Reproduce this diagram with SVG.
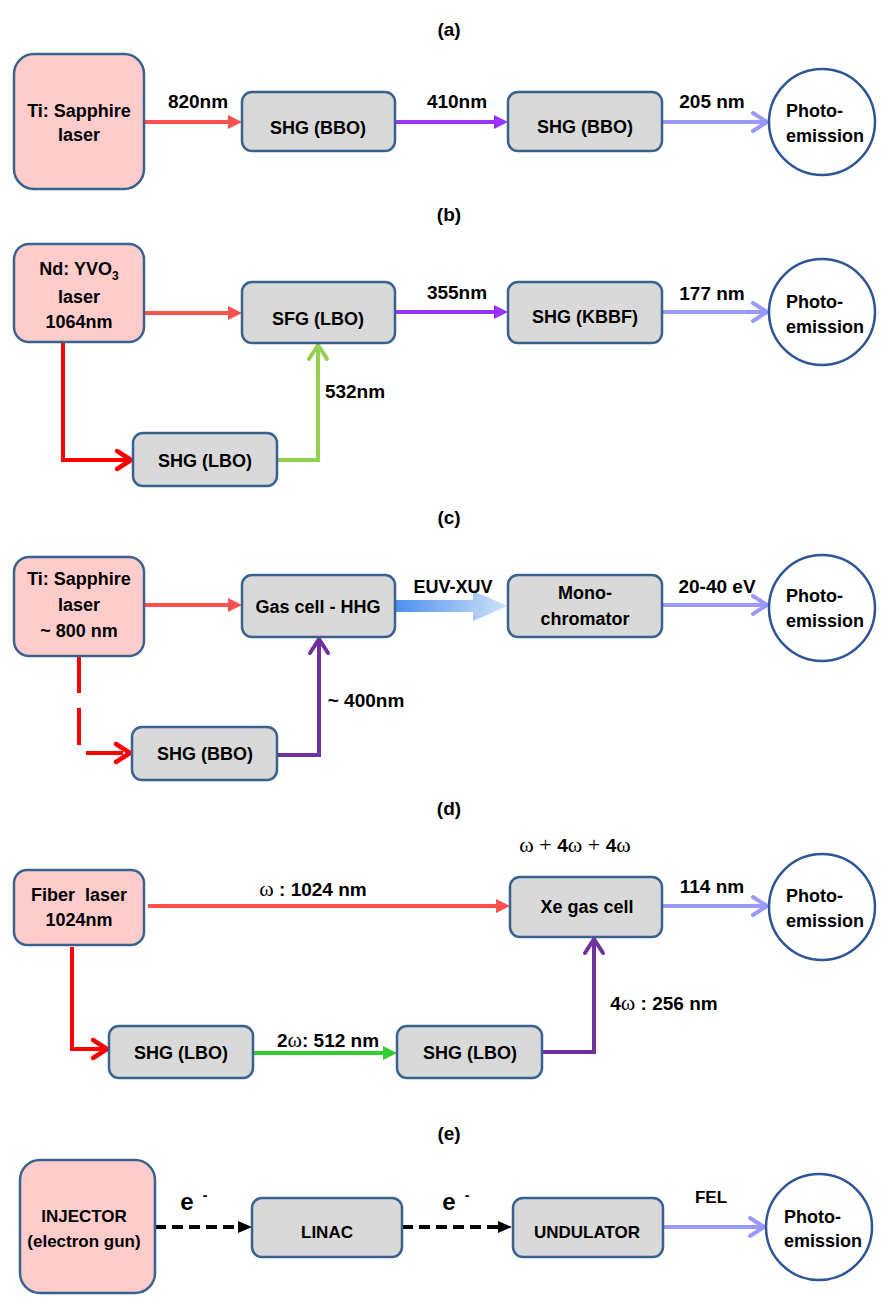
<svg xmlns="http://www.w3.org/2000/svg" width="890" height="1313" viewBox="0 0 890 1313">
<style>
text{font-family:"Liberation Sans",Arial,sans-serif;font-weight:bold;fill:#000;text-anchor:middle}
.title{font-size:19px}
.bt{font-size:18px}
.lbl{font-size:19px}
.et{font-size:17px}
.pe{font-size:18px;text-anchor:start}
.w{font-family:"Liberation Serif","Times New Roman",serif;font-weight:normal;font-size:22px}
.pink{fill:#FFCCCC;stroke:#3A6290;stroke-width:2.5}
.gray{fill:#D9D9D9;stroke:#3A6290;stroke-width:2.5}
.circ{fill:#FFFFFF;stroke:#2F5597;stroke-width:2.5}
.c{fill:none;stroke-width:4}
</style>
<defs>
<marker id="triRed" markerUnits="userSpaceOnUse" markerWidth="14" markerHeight="14" refX="8" refY="7" orient="auto" viewBox="0 0 14 14" overflow="visible"><path d="M0,0 L14,7 L0,14 z" fill="#FF5050"/></marker>
<marker id="triPurple" markerUnits="userSpaceOnUse" markerWidth="14" markerHeight="14" refX="8" refY="7" orient="auto" viewBox="0 0 14 14" overflow="visible"><path d="M0,0 L14,7 L0,14 z" fill="#9933FF"/></marker>
<marker id="triGreen" markerUnits="userSpaceOnUse" markerWidth="14" markerHeight="14" refX="8" refY="7" orient="auto" viewBox="0 0 14 14" overflow="visible"><path d="M0,0 L14,7 L0,14 z" fill="#33CC33"/></marker>
<marker id="triBlack" markerUnits="userSpaceOnUse" markerWidth="14" markerHeight="14" refX="8" refY="7" orient="auto" viewBox="0 0 14 14" overflow="visible"><path d="M0,1 L14,7 L0,13 z" fill="#000000"/></marker>
<marker id="chevBlue" markerUnits="userSpaceOnUse" markerWidth="24" markerHeight="24" refX="20" refY="12" orient="auto" viewBox="0 0 24 24" overflow="visible"><path d="M6,3 L20,12 L6,21" fill="none" stroke="#9999FF" stroke-width="4" stroke-linecap="round" stroke-linejoin="round"/></marker>
<marker id="chevRed" markerUnits="userSpaceOnUse" markerWidth="24" markerHeight="24" refX="20" refY="12" orient="auto" viewBox="0 0 24 24" overflow="visible"><path d="M6,3 L20,12 L6,21" fill="none" stroke="#FF0000" stroke-width="4.5" stroke-linecap="round" stroke-linejoin="round"/></marker>
<marker id="chevGreen" markerUnits="userSpaceOnUse" markerWidth="24" markerHeight="24" refX="20" refY="12" orient="auto" viewBox="0 0 24 24" overflow="visible"><path d="M6,3 L20,12 L6,21" fill="none" stroke="#92D050" stroke-width="4" stroke-linecap="round" stroke-linejoin="round"/></marker>
<marker id="chevPurple" markerUnits="userSpaceOnUse" markerWidth="24" markerHeight="24" refX="20" refY="12" orient="auto" viewBox="0 0 24 24" overflow="visible"><path d="M6,3 L20,12 L6,21" fill="none" stroke="#7030A0" stroke-width="4" stroke-linecap="round" stroke-linejoin="round"/></marker>
<linearGradient id="euv" x1="0" y1="0" x2="1" y2="0"><stop offset="0" stop-color="#4A8FEE"/><stop offset="1" stop-color="#D2E4F8"/></linearGradient>
</defs>
<rect width="890" height="1313" fill="#FFFFFF"/>

<g id="titles">
<text class="title" x="449" y="36">(a)</text>
<text class="title" x="449" y="221">(b)</text>
<text class="title" x="449" y="524">(c)</text>
<text class="title" x="449" y="815">(d)</text>
<text class="title" x="449" y="1140">(e)</text>
</g>

<g id="connectors">
<!-- (a) -->
<path class="c" d="M145,122 H236" stroke="#FF5050" marker-end="url(#triRed)"/>
<path class="c" d="M395,122 H502" stroke="#9933FF" marker-end="url(#triPurple)"/>
<path class="c" d="M662,122 H767" stroke="#9999FF" marker-end="url(#chevBlue)"/>
<text class="lbl" x="198" y="108">820nm</text>
<text class="lbl" x="457" y="108">410nm</text>
<text class="lbl" x="712" y="108">205 nm</text>
<!-- (b) -->
<path class="c" d="M144,313 H236" stroke="#FF5050" marker-end="url(#triRed)"/>
<path class="c" d="M395,312 H502" stroke="#9933FF" marker-end="url(#triPurple)"/>
<path class="c" d="M662,312 H767" stroke="#9999FF" marker-end="url(#chevBlue)"/>
<path class="c" d="M63,342 V460 H131" stroke="#FF0000" stroke-width="4.5" marker-end="url(#chevRed)"/>
<path class="c" d="M277,460 H318 V345" stroke="#92D050" marker-end="url(#chevGreen)"/>
<text class="lbl" x="457" y="299">355nm</text>
<text class="lbl" x="712" y="300">177 nm</text>
<text class="lbl" x="355" y="398">532nm</text>
<!-- (c) -->
<path class="c" d="M144,605 H236" stroke="#FF5050" marker-end="url(#triRed)"/>
<polygon points="395,600 473,600 473,591 508,606 473,621 473,612 395,612" fill="url(#euv)"/>
<path class="c" d="M662,605 H767" stroke="#9999FF" marker-end="url(#chevBlue)"/>
<path class="c" d="M79,656 V753 H130" stroke="#FF0000" stroke-width="4.5" stroke-dasharray="37 15" marker-end="url(#chevRed)"/>
<path class="c" d="M277,755 H319 V639" stroke="#7030A0" marker-end="url(#chevPurple)"/>
<text class="lbl" x="453" y="593" style="font-size:18px">EUV-XUV</text>
<text class="lbl" x="717" y="593">20-40 eV</text>
<text class="lbl" x="366" y="707">~ 400nm</text>
<!-- (d) -->
<path class="c" d="M148,906 H504" stroke="#FF5050" marker-end="url(#triRed)"/>
<path class="c" d="M662,906 H767" stroke="#9999FF" marker-end="url(#chevBlue)"/>
<path class="c" d="M72,947 V1049 H107" stroke="#FF0000" stroke-width="4.5" marker-end="url(#chevRed)"/>
<path class="c" d="M253,1053 H391" stroke="#33CC33" marker-end="url(#triGreen)"/>
<path class="c" d="M542,1052 H594 V939" stroke="#7030A0" marker-end="url(#chevPurple)"/>
<text class="lbl" x="313" y="896"><tspan class="w">ω</tspan> : 1024 nm</text>
<text class="lbl" x="575" y="852"><tspan class="w">ω + </tspan>4<tspan class="w">ω + </tspan>4<tspan class="w">ω</tspan></text>
<text class="lbl" x="712" y="893">114 nm</text>
<text class="lbl" x="328" y="1047">2<tspan class="w">ω</tspan>: 512 nm</text>
<text class="lbl" x="664" y="1010">4<tspan class="w">ω</tspan> : 256 nm</text>
<!-- (e) -->
<path class="c" d="M155,1227 H246" stroke="#000000" stroke-dasharray="11 6" marker-end="url(#triBlack)"/>
<path class="c" d="M402,1227 H506" stroke="#000000" stroke-dasharray="11 6" marker-end="url(#triBlack)"/>
<path class="c" d="M663,1227 H764" stroke="#9999FF" marker-end="url(#chevBlue)"/>
<text x="187" y="1210" style="font-size:24px">e</text>
<text x="205" y="1200" style="font-size:14px">-</text>
<text x="449" y="1210" style="font-size:24px">e</text>
<text x="467" y="1200" style="font-size:14px">-</text>
<text class="et" x="711" y="1203">FEL</text>
</g>

<!-- (a) nodes -->
<g id="a-laser"><rect class="pink" x="14" y="54" width="130" height="135" rx="20"/><text class="bt" x="79" y="117">Ti: Sapphire</text><text class="bt" x="79" y="141">laser</text></g>
<g id="a-shg1"><rect class="gray" x="242" y="92" width="153" height="59" rx="10"/><text class="bt" x="318" y="134">SHG (BBO)</text></g>
<g id="a-shg2"><rect class="gray" x="508" y="92" width="154" height="59" rx="10"/><text class="bt" x="585" y="133">SHG (BBO)</text></g>
<g id="a-pe"><circle class="circ" cx="822" cy="122" r="53"/><text class="pe" x="786" y="117">Photo-</text><text class="pe" x="786" y="142">emission</text></g>

<!-- (b) nodes -->
<g id="b-laser"><rect class="pink" x="14" y="244" width="130" height="98" rx="15"/><text class="bt" x="79" y="275">Nd: YVO<tspan font-size="12" dy="5">3</tspan></text><text class="bt" x="79" y="303">laser</text><text class="bt" x="79" y="328">1064nm</text></g>
<g id="b-sfg"><rect class="gray" x="242" y="282" width="153" height="61" rx="10"/><text class="bt" x="318" y="325">SFG (LBO)</text></g>
<g id="b-kbbf"><rect class="gray" x="508" y="282" width="154" height="61" rx="10"/><text class="bt" x="585" y="323">SHG (KBBF)</text></g>
<g id="b-shg"><rect class="gray" x="133" y="433" width="144" height="53" rx="10"/><text class="bt" x="205" y="467">SHG (LBO)</text></g>
<g id="b-pe"><circle class="circ" cx="822" cy="312" r="53"/><text class="pe" x="786" y="308">Photo-</text><text class="pe" x="786" y="333">emission</text></g>

<!-- (c) nodes -->
<g id="c-laser"><rect class="pink" x="14" y="557" width="130" height="99" rx="15"/><text class="bt" x="79" y="585">Ti: Sapphire</text><text class="bt" x="79" y="611">laser</text><text class="bt" x="79" y="637">~ 800 nm</text></g>
<g id="c-gas"><rect class="gray" x="242" y="575" width="153" height="62" rx="10"/><text class="bt" x="318" y="613">Gas cell - HHG</text></g>
<g id="c-mono"><rect class="gray" x="508" y="575" width="154" height="62" rx="10"/><text class="bt" x="585" y="599">Mono-</text><text class="bt" x="585" y="625">chromator</text></g>
<g id="c-shg"><rect class="gray" x="132" y="727" width="145" height="53" rx="10"/><text class="bt" x="205" y="760">SHG (BBO)</text></g>
<g id="c-pe"><circle class="circ" cx="822" cy="608" r="53"/><text class="pe" x="786" y="602">Photo-</text><text class="pe" x="786" y="627">emission</text></g>

<!-- (d) nodes -->
<g id="d-laser"><rect class="pink" x="14" y="870" width="130" height="75" rx="13"/><text class="bt" x="79" y="901" style="white-space:pre">Fiber  laser</text><text class="bt" x="79" y="926">1024nm</text></g>
<g id="d-xe"><rect class="gray" x="510" y="877" width="152" height="60" rx="10"/><text class="bt" x="587" y="913">Xe gas cell</text></g>
<g id="d-shg1"><rect class="gray" x="109" y="1026" width="144" height="52" rx="10"/><text class="bt" x="181" y="1059">SHG (LBO)</text></g>
<g id="d-shg2"><rect class="gray" x="397" y="1026" width="145" height="52" rx="10"/><text class="bt" x="470" y="1059">SHG (LBO)</text></g>
<g id="d-pe"><circle class="circ" cx="822" cy="907" r="53"/><text class="pe" x="786" y="902">Photo-</text><text class="pe" x="786" y="927">emission</text></g>

<!-- (e) nodes -->
<g id="e-inj"><rect class="pink" x="20" y="1160" width="135" height="133" rx="20"/><text class="et" x="84" y="1222">INJECTOR</text><text class="et" x="84" y="1247">(electron gun)</text></g>
<g id="e-linac"><rect class="gray" x="252" y="1198" width="150" height="59" rx="10"/><text class="et" x="327" y="1238">LINAC</text></g>
<g id="e-und"><rect class="gray" x="513" y="1198" width="150" height="59" rx="10"/><text class="et" x="587" y="1238">UNDULATOR</text></g>
<g id="e-pe"><circle class="circ" cx="819" cy="1227" r="53"/><text class="pe" x="784" y="1223">Photo-</text><text class="pe" x="784" y="1247">emission</text></g>
</svg>
